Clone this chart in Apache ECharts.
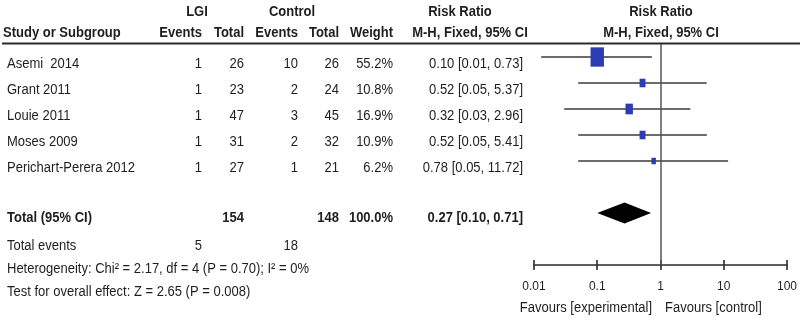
<!DOCTYPE html>
<html>
<head>
<meta charset="utf-8">
<script src="https://cdn.jsdelivr.net/npm/echarts@6/dist/echarts.min.js"></script>
<style>
html,body{margin:0;padding:0;background:#fff;}
#chart{width:800px;height:323px;}
</style>
</head>
<body>
<div id="chart"></div>
<script>
// ---- data ----
const studies = ['Asemi  2014', 'Grant 2011', 'Louie 2011', 'Moses 2009', 'Perichart-Perera 2012'];
const lgiEvents = [1, 1, 1, 1, 1];
const lgiTotal = [26, 23, 47, 31, 27];
const ctrlEvents = [10, 2, 3, 2, 1];
const ctrlTotal = [26, 24, 45, 32, 21];
const weights = [55.2, 10.8, 16.9, 10.9, 6.2];
const riskRatio = [0.10, 0.52, 0.32, 0.52, 0.78];
const ciLow = [0.013, 0.05, 0.03, 0.05, 0.05];
const ciHigh = [0.73, 5.37, 2.96, 5.41, 11.72];
const ciText = ['0.10 [0.01, 0.73]', '0.52 [0.05, 5.37]', '0.32 [0.03, 2.96]', '0.52 [0.05, 5.41]', '0.78 [0.05, 11.72]'];
const pooled = { rr: 0.27, lo: 0.10, hi: 0.71, text: '0.27 [0.10, 0.71]' };
const totals = { lgi: 154, ctrl: 148, weight: '100.0%', lgiEvents: 5, ctrlEvents: 18 };
const xTickLabels = ['0.01', '0.1', '1', '10', '100'];
const heterogeneityText = 'Heterogeneity: Chi² = 2.17, df = 4 (P = 0.70); I² = 0%';
const overallText = 'Test for overall effect: Z = 2.65 (P = 0.008)';

// ---- layout ----
const FONT = '"Liberation Sans", Arial, sans-serif';
const TXT = '#1e1e1e';
const colX = { events1: 202, total1: 244, events2: 298, total2: 339, weight: 393, ci: 523 };
const rowY = i => 64 + 26 * i;

function t(text, x, y, align, bold, size) {
  return {
    type: 'text', x: x, y: y, silent: true, scaleY: 1.16,
    style: {
      text: String(text),
      font: (bold ? 'bold ' : '') + (size || 13) + 'px ' + FONT,
      fill: TXT,
      textAlign: align || 'left', align: align || 'left',
      textVerticalAlign: 'middle', verticalAlign: 'middle'
    }
  };
}

const g = [];
// headers
g.push(t('LGI', 197, 12, 'center', true));
g.push(t('Control', 292, 12, 'center', true));
g.push(t('Risk Ratio', 460, 12, 'center', true));
g.push(t('Risk Ratio', 661, 12, 'center', true));
g.push(t('Study or Subgroup', 3, 33, 'left', true));
g.push(t('Events', colX.events1, 33, 'right', true));
g.push(t('Total', colX.total1, 33, 'right', true));
g.push(t('Events', colX.events2, 33, 'right', true));
g.push(t('Total', colX.total2, 33, 'right', true));
g.push(t('Weight', colX.weight, 33, 'right', true));
g.push(t('M-H, Fixed, 95% CI', 470, 33, 'center', true));
g.push(t('M-H, Fixed, 95% CI', 661, 33, 'center', true));
g.push({ type: 'line', silent: true, shape: { x1: 2, y1: 43.5, x2: 800, y2: 43.5 }, style: { stroke: '#2a2a2a', lineWidth: 2 } });

studies.forEach((s, i) => {
  const y = rowY(i);
  g.push(t(s, 7, y, 'left', false));
  g.push(t(lgiEvents[i], colX.events1, y, 'right'));
  g.push(t(lgiTotal[i], colX.total1, y, 'right'));
  g.push(t(ctrlEvents[i], colX.events2, y, 'right'));
  g.push(t(ctrlTotal[i], colX.total2, y, 'right'));
  g.push(t(weights[i].toFixed(1) + '%', colX.weight, y, 'right'));
  g.push(t(ciText[i], colX.ci, y, 'right'));
});
g.push(t('Total (95% CI)', 7, 218, 'left', true));
g.push(t(totals.lgi, colX.total1, 218, 'right', true));
g.push(t(totals.ctrl, colX.total2, 218, 'right', true));
g.push(t(totals.weight, colX.weight, 218, 'right', true));
g.push(t(pooled.text, colX.ci, 218, 'right', true));
g.push(t('Total events', 7, 246, 'left'));
g.push(t(totals.lgiEvents, colX.events1, 246, 'right'));
g.push(t(totals.ctrlEvents, colX.events2, 246, 'right'));
g.push(t(heterogeneityText, 7, 269, 'left'));
g.push(t(overallText, 7, 292, 'left'));
g.push(t('Favours [experimental]', 652, 308, 'right'));
g.push(t('Favours [control]', 665, 308, 'left'));

const studyData = studies.map((s, i) => [ciLow[i], ciHigh[i], riskRatio[i], weights[i], i]);
const pooledData = [[pooled.lo, pooled.hi, pooled.rr, 6]];

const xAxisBase = {
  type: 'log', logBase: 10, min: 0.01, max: 100, position: 'bottom',
  splitLine: { show: false }, minorTick: { show: false }
};

const option = {
  animation: false,
  backgroundColor: '#fff',
  grid: { left: 534, right: 13, top: 44, bottom: 58, containLabel: false },
  xAxis: [
    Object.assign({}, xAxisBase, {
      axisLine: { show: true, onZero: false, lineStyle: { color: '#2a2a2a', width: 1.6 } },
      axisTick: { show: true, inside: false, length: 5, lineStyle: { color: '#2a2a2a', width: 1.6 } },
      axisLabel: {
        show: true, margin: 16, color: TXT, fontSize: 12, fontFamily: FONT,
        formatter: v => {
          const k = Math.round(Math.log10(v)) + 2;
          return xTickLabels[k] !== undefined ? xTickLabels[k] : '';
        }
      }
    }),
    Object.assign({}, xAxisBase, {
      axisLine: { show: false, onZero: false },
      axisTick: { show: true, inside: true, length: 5, lineStyle: { color: '#2a2a2a', width: 1.6 } },
      axisLabel: { show: false }
    })
  ],
  yAxis: { type: 'value', inverse: true, min: -0.5, max: 8, show: false },
  graphic: { elements: g },
  series: [
    {
      type: 'custom',
      xAxisIndex: 0,
      data: studyData,
      encode: { x: [0, 1, 2], y: 4 },
      renderItem: function (params, api) {
        const y = api.value(4);
        const p1 = api.coord([api.value(0), y]);
        const p2 = api.coord([api.value(1), y]);
        const c = api.coord([api.value(2), y]);
        const s = Math.sqrt(api.value(3));
        const w = 1.8 * s, h = 2.6 * s;
        return {
          type: 'group',
          children: [
            { type: 'line', shape: { x1: p1[0], y1: p1[1], x2: p2[0], y2: p2[1] }, style: { stroke: '#3a3a3a', lineWidth: 1.6 } },
            { type: 'rect', shape: { x: c[0] - w / 2, y: c[1] - h / 2, width: w, height: h }, style: { fill: '#2b3db5' } }
          ]
        };
      }
    },
    {
      type: 'custom',
      xAxisIndex: 0,
      data: pooledData,
      encode: { x: [0, 1, 2], y: 3 },
      renderItem: function (params, api) {
        const y = api.value(3);
        const a = api.coord([api.value(0), y]);
        const b = api.coord([api.value(1), y]);
        const c = api.coord([api.value(2), y]);
        const hh = 10.5;
        return {
          type: 'polygon',
          shape: { points: [[a[0], a[1]], [c[0], c[1] - hh], [b[0], b[1]], [c[0], c[1] + hh]] },
          style: { fill: '#000' }
        };
      },
      markLine: {
        silent: true, symbol: ['none', 'none'], label: { show: false },
        lineStyle: { color: '#555', width: 1.5, type: 'solid' },
        data: [{ xAxis: 1 }]
      }
    }
  ]
};

const chart = echarts.init(document.getElementById('chart'), null, { renderer: 'canvas' });
chart.setOption(option);
</script>
</body>
</html>
